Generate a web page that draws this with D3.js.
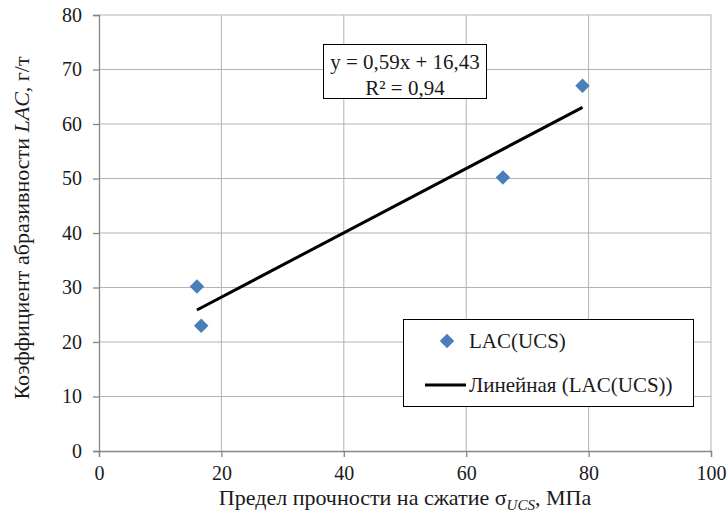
<!DOCTYPE html>
<html>
<head>
<meta charset="utf-8">
<script src="https://cdn.jsdelivr.net/npm/d3@7"></script>
<style>
  body { margin: 0; background: #fff; }
</style>
</head>
<body>
<div id="chart"></div>
<script>
// data
var ucs = [16, 16.7, 66, 79];
var lac = [30.2, 23, 50.2, 67];
var xTicks = [0, 20, 40, 60, 80, 100];
var yTicks = [0, 10, 20, 30, 40, 50, 60, 70, 80];
var trendSlope = 0.59;
var trendIntercept = 16.43;
var eqLines = ["y = 0,59x + 16,43", "R² = 0,94"];
var legendLabels = ["LAC(UCS)", "Линейная (LAC(UCS))"];

var w = 728, h = 515;
var pLeft = 99, pRight = 711, pTop = 15, pBottom = 451;
var blue = "#4a7ebb";
var ink = "#1a1a1a";
var serif = "'Liberation Serif'";

var svg = d3.select("#chart").append("svg")
  .attr("width", w)
  .attr("height", h);

var x = d3.scaleLinear().domain([0, 100]).range([pLeft, pRight]);
var y = d3.scaleLinear().domain([0, 80]).range([pBottom, pTop]);

//gridlines
svg.append("g")
  .selectAll("line")
  .data(xTicks.slice(1))
  .enter().append("line")
  .attr("x1", function (d) { return x(d); })
  .attr("x2", function (d) { return x(d); })
  .attr("y1", pTop)
  .attr("y2", pBottom)
  .attr("stroke", "#b3b3b3");

svg.append("g")
  .selectAll("line")
  .data(yTicks.slice(1))
  .enter().append("line")
  .attr("x1", pLeft)
  .attr("x2", pRight)
  .attr("y1", function (d) { return y(d); })
  .attr("y2", function (d) { return y(d); })
  .attr("stroke", "#b3b3b3");

//axes
var xAxis = svg.append("g")
  .attr("transform", "translate(0," + pBottom + ")")
  .call(d3.axisBottom(x).tickValues(xTicks).tickSize(6).tickPadding(9));
var yAxis = svg.append("g")
  .attr("transform", "translate(" + pLeft + ",0)")
  .call(d3.axisLeft(y).tickValues(yTicks).tickSize(6).tickPadding(11));

[xAxis, yAxis].forEach(function (a) {
  a.attr("font-family", null).attr("font-size", null);
  a.select(".domain").attr("stroke", "#868686").attr("stroke-width", 1.3);
  a.selectAll(".tick line").attr("stroke", "#868686").attr("stroke-width", 1.3);
  a.selectAll(".tick text")
    .style("font-family", serif)
    .style("font-size", "20px")
    .attr("fill", ink);
});

//trend line
var x0 = d3.min(ucs), x1 = d3.max(ucs);
svg.append("line")
  .attr("x1", x(x0))
  .attr("y1", y(trendSlope * x0 + trendIntercept))
  .attr("x2", x(x1))
  .attr("y2", y(trendSlope * x1 + trendIntercept))
  .attr("stroke", "#000")
  .attr("stroke-width", 3);

//points
var diamond = d3.symbol().type(d3.symbolSquare).size(105);
svg.append("g")
  .selectAll("path")
  .data(ucs)
  .enter().append("path")
  .attr("d", diamond)
  .attr("transform", function (d, i) {
    return "translate(" + x(d) + "," + y(lac[i]) + ") rotate(45)";
  })
  .attr("fill", blue);

//equation box
svg.append("rect")
  .attr("x", 323.5).attr("y", 44.5)
  .attr("width", 163).attr("height", 54)
  .attr("fill", "#fff").attr("stroke", "#000").attr("stroke-width", 1);
svg.selectAll("text.eq")
  .data(eqLines)
  .enter().append("text")
  .attr("class", "eq")
  .attr("x", 405)
  .attr("y", function (d, i) { return 69 + i * 26; })
  .attr("text-anchor", "middle")
  .style("font-family", serif)
  .style("font-size", "21px")
  .attr("fill", ink)
  .text(function (d) { return d; });

//legend
svg.append("rect")
  .attr("x", 403.5).attr("y", 319.5)
  .attr("width", 290).attr("height", 87)
  .attr("fill", "#fff").attr("stroke", "#000").attr("stroke-width", 1);
svg.append("path")
  .attr("d", diamond)
  .attr("transform", "translate(447,341) rotate(45)")
  .attr("fill", blue);
svg.append("line")
  .attr("x1", 425).attr("x2", 466)
  .attr("y1", 385).attr("y2", 385)
  .attr("stroke", "#000").attr("stroke-width", 3);
svg.selectAll("text.leg")
  .data(legendLabels)
  .enter().append("text")
  .attr("class", "leg")
  .attr("x", 469)
  .attr("y", function (d, i) { return 348 + i * 44; })
  .style("font-family", serif)
  .style("font-size", "21px")
  .attr("fill", ink)
  .text(function (d) { return d; });

//axis titles
var xt = svg.append("text")
  .attr("x", 405)
  .attr("y", 505)
  .attr("text-anchor", "middle")
  .style("font-family", serif)
  .style("font-size", "22px")
  .attr("fill", ink);
xt.append("tspan").text("Предел прочности на сжатие σ");
xt.append("tspan").style("font-style", "italic").style("font-size", "15px").attr("dy", 5).text("UCS");
xt.append("tspan").attr("dy", -5).text(", МПа");

var yt = svg.append("text")
  .attr("transform", "translate(29,228) rotate(-90)")
  .attr("text-anchor", "middle")
  .style("font-family", serif)
  .style("font-size", "22px")
  .attr("fill", ink);
yt.append("tspan").text("Коэффициент абразивности ");
yt.append("tspan").style("font-style", "italic").text("LAC");
yt.append("tspan").text(", г/т");
</script>
</body>
</html>
